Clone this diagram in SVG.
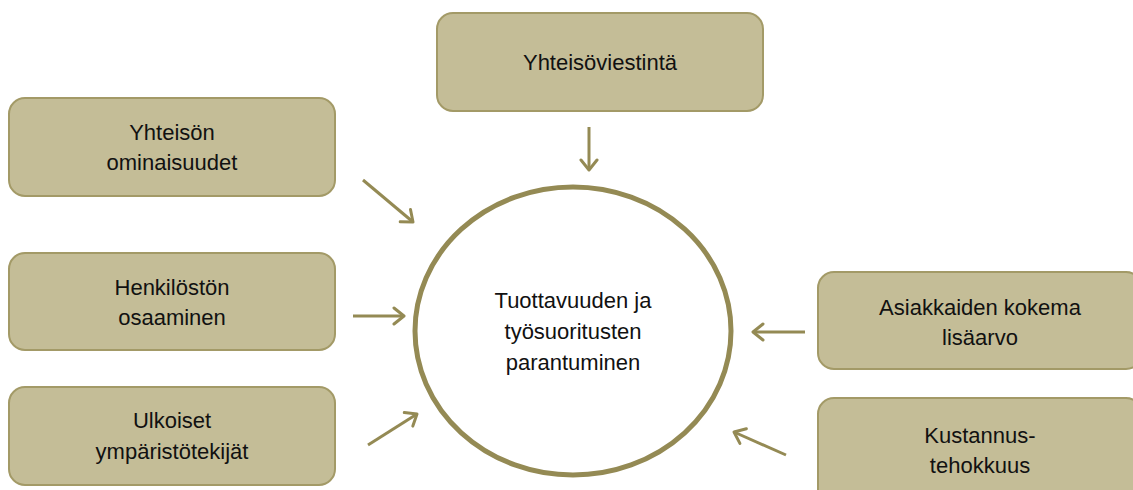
<svg xmlns="http://www.w3.org/2000/svg" width="1133" height="490" viewBox="0 0 1133 490">
  <style>
    .box { fill: #C4BD97; stroke: #A39A67; stroke-width: 2; }
    .lbl { font-family: "Liberation Sans", Arial, sans-serif; font-size: 22px; fill: #111; text-anchor: middle; }
    .arr { stroke: #948A54; stroke-width: 3; fill: none; marker-end: url(#ah); }
  </style>
  <defs>
    <marker id="ah" markerUnits="userSpaceOnUse" markerWidth="20" markerHeight="20" viewBox="-12 -10 14 20" refX="0" refY="0" orient="auto">
      <path d="M-10,-8 L0,0 L-10,8" fill="none" stroke="#948A54" stroke-width="3" stroke-linecap="round" stroke-linejoin="round"/>
    </marker>
  </defs>
  <rect width="1133" height="490" fill="#fff"/>

  <g id="center">
    <ellipse cx="573" cy="331" rx="158" ry="144" fill="#fff" stroke="#948A54" stroke-width="5"/>
    <text class="lbl" x="573" y="308">Tuottavuuden ja</text>
    <text class="lbl" x="573" y="339">työsuoritusten</text>
    <text class="lbl" x="573" y="370">parantuminen</text>
  </g>

  <g id="yhteisoviestinta">
    <rect class="box" x="437" y="13" width="326" height="98" rx="16"/>
    <text class="lbl" x="600" y="70">Yhteisöviestintä</text>
  </g>

  <g id="yhteison-ominaisuudet">
    <rect class="box" x="9" y="98" width="326" height="98" rx="16"/>
    <text class="lbl" x="172" y="140">Yhteisön</text>
    <text class="lbl" x="172" y="170">ominaisuudet</text>
  </g>

  <g id="henkiloston-osaaminen">
    <rect class="box" x="9" y="253" width="326" height="97" rx="16"/>
    <text class="lbl" x="172" y="295">Henkilöstön</text>
    <text class="lbl" x="172" y="325">osaaminen</text>
  </g>

  <g id="ulkoiset">
    <rect class="box" x="9" y="387" width="326" height="98" rx="16"/>
    <text class="lbl" x="172" y="428">Ulkoiset</text>
    <text class="lbl" x="172" y="459">ympäristötekijät</text>
  </g>

  <g id="asiakkaiden">
    <rect class="box" x="818" y="272" width="324" height="97" rx="16"/>
    <text class="lbl" x="980" y="315">Asiakkaiden kokema</text>
    <text class="lbl" x="980" y="345">lisäarvo</text>
  </g>

  <g id="kustannus">
    <rect class="box" x="818" y="398" width="324" height="110" rx="16"/>
    <text class="lbl" x="980" y="443">Kustannus-</text>
    <text class="lbl" x="980" y="473">tehokkuus</text>
  </g>

  <g id="connectors">
    <line class="arr" x1="589" y1="127" x2="589" y2="170"/>
    <line class="arr" x1="363" y1="180" x2="413" y2="222"/>
    <line class="arr" x1="353" y1="316" x2="404" y2="316"/>
    <line class="arr" x1="368" y1="445" x2="417" y2="414"/>
    <line class="arr" x1="805" y1="332" x2="753" y2="332"/>
    <line class="arr" x1="786" y1="455" x2="734" y2="432"/>
  </g>
</svg>
